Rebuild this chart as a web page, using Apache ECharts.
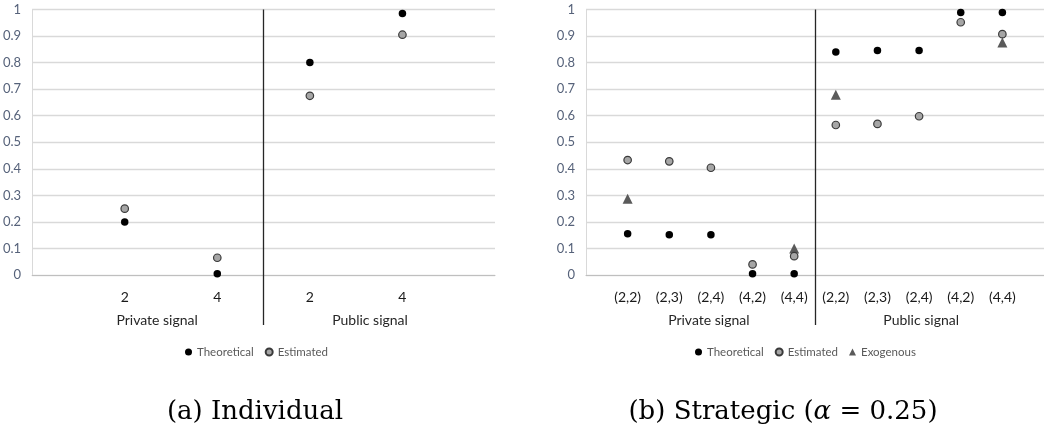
<!DOCTYPE html>
<html>
<head>
<meta charset="utf-8">
<style>
  html, body { margin: 0; padding: 0; background: #ffffff; }
  #chart { width: 1044px; height: 434px; }
</style>
<script src="https://cdn.jsdelivr.net/npm/echarts@6/dist/echarts.min.js"></script>
</head>
<body>
<div id="chart"></div>
<script>
// Signal groups shown under each panel
const groupNames = ['Private signal', 'Public signal'];

// (a) Individual: tick labels and probabilities per signal
const indivTicks = ['2', '4', '2', '4'];
const indivTheoretical = [0.20, 0.005, 0.80, 0.985];
const indivEstimated = [0.25, 0.065, 0.675, 0.905];

// (b) Strategic: tick labels and probabilities per signal pair
const stratTicks = ['(2,2)', '(2,3)', '(2,4)', '(4,2)', '(4,4)',
                    '(2,2)', '(2,3)', '(2,4)', '(4,2)', '(4,4)'];
const stratTheoretical = [0.155, 0.152, 0.152, 0.005, 0.005,
                          0.840, 0.846, 0.846, 0.989, 0.989];
const stratEstimated = [0.433, 0.428, 0.404, 0.040, 0.071,
                        0.565, 0.569, 0.598, 0.952, 0.907];
const stratExogenous = [0.287, null, null, null, 0.100,
                        0.679, null, null, null, 0.876];

// Value-axis ticks
const yMin = 0, yMax = 1, yStep = 0.1;

const LABEL_FONT = 'Lato';
const toPoints = vals => vals.map((v, i) => v == null ? null : [i + 1, v]).filter(p => p);

const markerTheo = { color: '#000000', opacity: 1 };
const markerEst = { color: '#a6a6a6', borderColor: '#3a3a3a', borderWidth: 1.2, opacity: 1 };
const markerExo = { color: '#5a5a5a', opacity: 1 };

function dividerLine(x) {
  return {
    silent: true,
    symbol: ['none', 'none'],
    label: { show: false },
    lineStyle: { color: '#262626', width: 1.3, type: 'solid' },
    data: [{ xAxis: x }]
  };
}

function panelAxes(gridIndex, ticks, groupPos) {
  const n = ticks.length;
  const span = n + 1;
  const divider = span / 2;
  const primary = {
    type: 'value', gridIndex, min: 0, max: span,
    axisLine: { show: true, lineStyle: { color: '#bfbfbf', width: 1 } },
    splitLine: { show: false },
    axisTick: {
      show: true, customValues: [divider], length: 50,
      lineStyle: { color: '#262626', width: 1.3 }
    },
    axisLabel: {
      customValues: ticks.map((t, i) => i + 1),
      formatter: v => ticks[Math.round(v) - 1] || '',
      margin: 15, color: '#1a1a1a', fontFamily: LABEL_FONT, fontSize: 14
    }
  };
  const group = {
    type: 'value', gridIndex, min: 0, max: span, position: 'bottom', offset: 25,
    axisLine: { show: false },
    axisTick: { show: false },
    splitLine: { show: false },
    axisLabel: {
      customValues: groupPos,
      formatter: v => groupNames[groupPos.indexOf(v)] || '',
      margin: 13, color: '#262626', fontFamily: LABEL_FONT, fontSize: 14
    }
  };
  return [primary, group];
}

function yAxisFor(gridIndex) {
  return {
    type: 'value', gridIndex, min: yMin, max: yMax, interval: yStep,
    axisLine: { show: true, lineStyle: { color: '#d9d9d9', width: 1 } },
    axisTick: { show: false },
    splitLine: { show: true, lineStyle: { color: '#d9d9d9', width: 1.3 } },
    axisLabel: {
      margin: 11, color: '#56627a', fontFamily: LABEL_FONT, fontSize: 13,
      formatter: v => String(Math.round(v * 10) / 10)
    }
  };
}

const xAxes = [
  ...panelAxes(0, indivTicks, [1.35, 3.65]),
  ...panelAxes(1, stratTicks, [2.95, 8.05])
];

const legendText = { color: '#595959', fontFamily: LABEL_FONT, fontSize: 11.5 };

const chart = echarts.init(document.getElementById('chart'), null, { renderer: 'canvas' });

chart.setOption({
  backgroundColor: '#ffffff',
  animation: false,
  grid: [
    { left: 32, top: 9.5, width: 463, height: 265.5 },
    { left: 586, top: 9.5, width: 462, height: 265.5 }
  ],
  xAxis: xAxes,
  yAxis: [yAxisFor(0), yAxisFor(1)],
  legend: [
    {
      data: ['Theoretical', 'Estimated'],
      left: 180, top: 341, itemWidth: 7, itemHeight: 7, itemGap: 11,
      textStyle: legendText, selectedMode: false
    },
    {
      data: ['Theoretical', 'Estimated', 'Exogenous'],
      left: 690, top: 341, itemWidth: 7, itemHeight: 7, itemGap: 11,
      textStyle: legendText, selectedMode: false
    }
  ],
  series: [
    {
      name: 'Theoretical', type: 'scatter', xAxisIndex: 0, yAxisIndex: 0,
      symbol: 'circle', symbolSize: 7.5, itemStyle: markerTheo, z: 3,
      data: toPoints(indivTheoretical), markLine: dividerLine((indivTicks.length + 1) / 2)
    },
    {
      name: 'Estimated', type: 'scatter', xAxisIndex: 0, yAxisIndex: 0,
      symbol: 'circle', symbolSize: 7.5, itemStyle: markerEst, z: 4,
      data: toPoints(indivEstimated)
    },
    {
      name: 'Theoretical', type: 'scatter', xAxisIndex: 2, yAxisIndex: 1,
      symbol: 'circle', symbolSize: 7.5, itemStyle: markerTheo, z: 3,
      data: toPoints(stratTheoretical), markLine: dividerLine((stratTicks.length + 1) / 2)
    },
    {
      name: 'Estimated', type: 'scatter', xAxisIndex: 2, yAxisIndex: 1,
      symbol: 'circle', symbolSize: 7.5, itemStyle: markerEst, z: 4,
      data: toPoints(stratEstimated)
    },
    {
      name: 'Exogenous', type: 'scatter', xAxisIndex: 2, yAxisIndex: 1,
      symbol: 'triangle', symbolSize: 10, itemStyle: markerExo, z: 2,
      data: toPoints(stratExogenous)
    }
  ],
  graphic: [
    {
      type: 'text', x: 255, y: 412,
      style: {
        text: '(a) Individual', fill: '#000000',
        fontFamily: 'DejaVu Serif', fontSize: 26,
        align: 'center', verticalAlign: 'middle'
      }
    },
    {
      type: 'text', x: 783, y: 412,
      style: {
        text: '(b) Strategic ({g|α} = 0.25)', fill: '#000000',
        fontFamily: 'DejaVu Serif', fontSize: 26,
        align: 'center', verticalAlign: 'middle',
        rich: { g: { fontFamily: 'DejaVu Serif', fontSize: 26, fontStyle: 'italic', fill: '#000000' } }
      }
    }
  ]
});
</script>
</body>
</html>
